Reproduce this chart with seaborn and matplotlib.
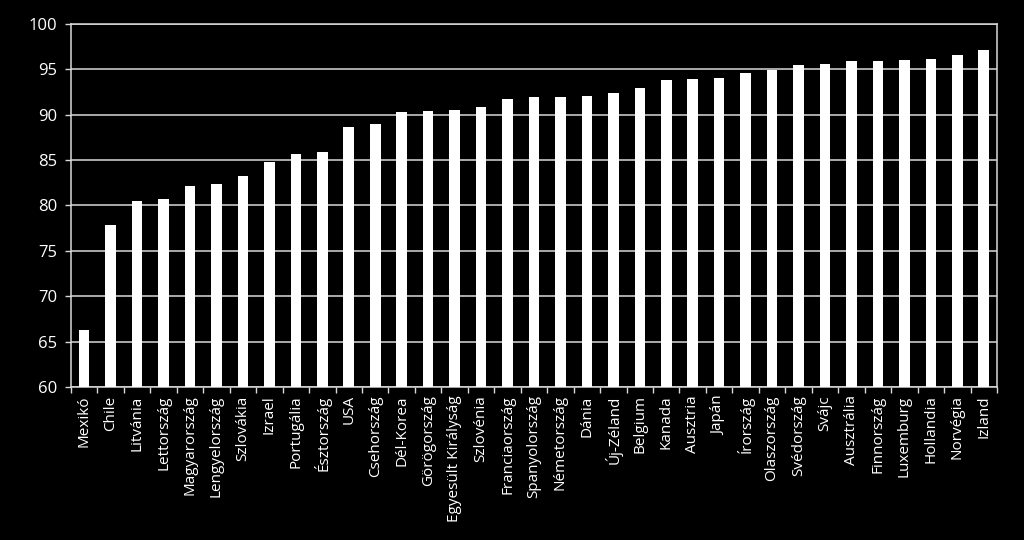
import matplotlib
matplotlib.use("Agg")
import matplotlib.pyplot as plt
import seaborn as sns
import numpy as np
import pandas as pd
from matplotlib.ticker import FixedLocator

countries = ["Mexikó", "Chile", "Litvánia", "Lettország", "Magyarország", "Lengyelország",
             "Szlovákia", "Izrael", "Portugália", "Észtország", "USA", "Csehország",
             "Dél-Korea", "Görögország", "Egyesült Királyság", "Szlovénia", "Franciaország",
             "Spanyolország", "Németország", "Dánia", "Új-Zéland", "Belgium", "Kanada",
             "Ausztria", "Japán", "Írország", "Olaszország", "Svédország", "Svájc",
             "Ausztrália", "Finnország", "Luxemburg", "Hollandia", "Norvégia", "Izland"]
values = [66.3, 77.9, 80.5, 80.7, 82.1, 82.4, 83.3, 84.8, 85.7, 85.9, 88.7, 89.0,
          90.25, 90.4, 90.5, 90.8, 91.7, 91.9, 92.0, 92.1, 92.4, 92.9, 93.8, 93.9,
          94.1, 94.6, 94.9, 95.5, 95.6, 95.9, 95.9, 96.0, 96.1, 96.6, 97.1]
yticks = [60, 65, 70, 75, 80, 85, 90, 95, 100]

sns.set_theme(style="white")
plt.rcParams['font.family'] = ['Open Sans', 'DejaVu Sans']

df = pd.DataFrame({"country": countries, "value": values})

fig = plt.figure(figsize=(10.24, 5.4), dpi=100, facecolor="black")
ax = fig.add_axes([0.0693, 0.2833, 0.9043, 0.6723])
ax.set_facecolor("black")

sns.barplot(data=df, x="country", y="value", color="white", width=0.4,
            saturation=1, ax=ax, zorder=3, edgecolor="white", linewidth=0)

ax.set_ylim(60, 100)
ax.set_xlim(-0.5, len(countries) - 0.5)
ax.set_yticks(yticks)
ax.set_yticklabels([str(t) for t in yticks], color="white", fontsize=12)
ax.yaxis.grid(True, color="#d9d9d9", linewidth=1.1, zorder=0)
ax.xaxis.grid(False)
ax.set_xlabel("")
ax.set_ylabel("")
ax.set_xticks(range(len(countries)))
ax.set_xticklabels(countries, rotation=90, color="white", fontsize=11)
ax.xaxis.set_minor_locator(FixedLocator(np.arange(-0.5, len(countries), 1.0)))
ax.tick_params(axis="x", which="major", length=0, pad=6)
ax.tick_params(axis="x", which="minor", length=4, color="#d9d9d9", width=1, bottom=True)
ax.tick_params(axis="y", which="major", length=4, color="#d9d9d9", width=1, left=True, pad=6)

for s in ["left", "bottom", "right", "top"]:
    ax.spines[s].set_color("#d9d9d9")
    ax.spines[s].set_linewidth(1.1)
ax.spines["top"].set_visible(True)
ax.spines["right"].set_visible(True)

fig.savefig("out.png", dpi=100, facecolor="black")
